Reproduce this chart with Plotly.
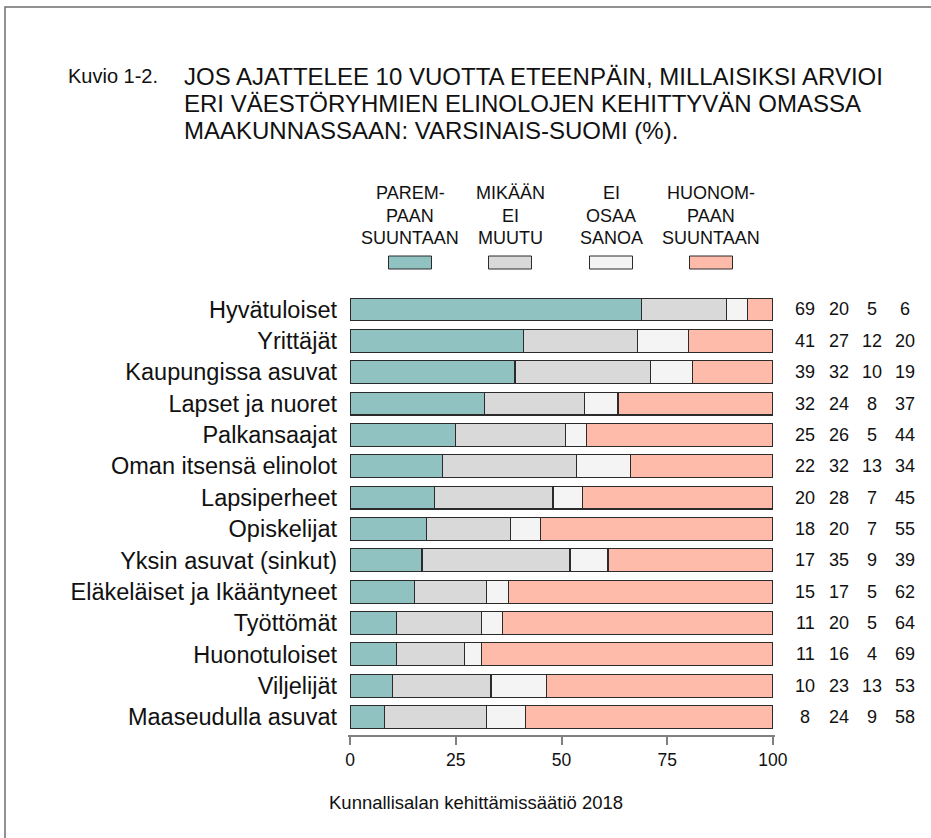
import plotly.graph_objects as go

categories = ["Hyvätuloiset", "Yrittäjät", "Kaupungissa asuvat", "Lapset ja nuoret",
              "Palkansaajat", "Oman itsensä elinolot", "Lapsiperheet", "Opiskelijat",
              "Yksin asuvat (sinkut)", "Eläkeläiset ja Ikääntyneet", "Työttömät",
              "Huonotuloiset", "Viljelijät", "Maaseudulla asuvat"]
better = [69, 41, 39, 32, 25, 22, 20, 18, 17, 15, 11, 11, 10, 8]
same = [20, 27, 32, 24, 26, 32, 28, 20, 35, 17, 20, 16, 23, 24]
dont_know = [5, 12, 10, 8, 5, 13, 7, 7, 9, 5, 5, 4, 13, 9]
worse = [6, 20, 19, 37, 44, 34, 45, 55, 39, 62, 64, 69, 53, 58]

series_names = ["PAREM-<br>PAAN<br>SUUNTAAN", "MIKÄÄN<br>EI<br>MUUTU",
                "EI<br>OSAA<br>SANOA", "HUONOM-<br>PAAN<br>SUUNTAAN"]
series_values = [better, same, dont_know, worse]
colors = ["#90C2C2", "#D9D9D9", "#F4F4F4", "#FFBBAA"]
x_ticks = [0, 25, 50, 75, 100]

title_prefix = "Kuvio 1-2."
title_lines = ["JOS AJATTELEE 10 VUOTTA ETEENPÄIN, MILLAISIKSI ARVIOI",
               "ERI VÄESTÖRYHMIEN ELINOLOJEN KEHITTYVÄN OMASSA",
               "MAAKUNNASSAAN: VARSINAIS-SUOMI (%)."]
footer = "Kunnallisalan kehittämissäätiö 2018"

W, H = 931, 838
PL, PR, PT, PB = 348, 775, 293, 735
FONT = "Liberation Sans, Arial, sans-serif"


def px(xp):
    return (xp - PL) / (PR - PL)


def py(yp):
    return (PB - yp) / (PB - PT)


fig = go.Figure()
for name, vals, col in zip(series_names, series_values, colors):
    fig.add_trace(go.Bar(
        y=categories, x=vals, orientation="h", name=name,
        marker=dict(color=col, line=dict(color="#2b2b2b", width=1.1)),
        showlegend=False,
    ))

annotations = []
# value columns
col_px = [805, 839, 872, 905]
for vals, cx in zip(series_values, col_px):
    for cat, v in zip(categories, vals):
        annotations.append(dict(
            x=px(cx), xref="paper", y=cat, yref="y", text=str(v),
            showarrow=False, xanchor="center", yanchor="middle",
            font=dict(family=FONT, size=18, color="#111"),
        ))

# legend
leg_cx = [410, 510, 611, 711]
leg_line_y = [192, 215, 237]
shapes = []
for name, col, cx in zip(series_names, colors, leg_cx):
    for line, ly in zip(name.split("<br>"), leg_line_y):
        annotations.append(dict(
            x=px(cx), xref="paper", y=py(ly + 1), yref="paper", text=line,
            showarrow=False, xanchor="center", yanchor="middle",
            font=dict(family=FONT, size=18, color="#111"),
        ))
    shapes.append(dict(
        type="rect", xref="paper", yref="paper",
        x0=px(cx - 21.5), x1=px(cx + 21.5), y0=py(269), y1=py(256),
        fillcolor=col, line=dict(color="#2b2b2b", width=1),
    ))

# title
annotations.append(dict(
    x=px(66), xref="paper", y=py(76), yref="paper", text=title_prefix,
    showarrow=False, xanchor="left", yanchor="middle",
    font=dict(family=FONT, size=20, color="#111"),
))
for line, ly in zip(title_lines, [76, 103, 130]):
    annotations.append(dict(
        x=px(182), xref="paper", y=py(ly), yref="paper", text=line,
        showarrow=False, xanchor="left", yanchor="middle",
        font=dict(family=FONT, size=24, color="#111"),
    ))

# footer
annotations.append(dict(
    x=px(476), xref="paper", y=py(802), yref="paper", text=footer,
    showarrow=False, xanchor="center", yanchor="middle",
    font=dict(family=FONT, size=18.5, color="#111"),
))

# outer border (runs off right and bottom edges)
shapes.append(dict(
    type="rect", xref="paper", yref="paper",
    x0=px(5), x1=px(1000), y0=py(1000), y1=py(7),
    line=dict(color="#6e6e6e", width=1.5), fillcolor="rgba(0,0,0,0)", layer="below",
))

fig.update_layout(
    width=W, height=H,
    margin=dict(l=PL, r=W - PR, t=PT, b=H - PB, pad=0),
    barmode="stack", barnorm="percent", bargap=0.27,
    plot_bgcolor="white", paper_bgcolor="white",
    annotations=annotations, shapes=shapes,
    font=dict(family=FONT, color="#111"),
)
fig.update_xaxes(
    range=[-0.5, 100.5], tickvals=x_ticks, ticktext=[str(t) for t in x_ticks],
    showgrid=False, zeroline=False, showline=True, linecolor="#808080", linewidth=1.5,
    ticks="outside", ticklen=8, tickcolor="#808080", tickwidth=1.5,
    tickfont=dict(family=FONT, size=17.5, color="#111"),
)
fig.update_yaxes(
    categoryorder="array", categoryarray=categories[::-1],
    range=[-0.574, 13.526], showgrid=False, zeroline=False, showline=False,
    ticks="", ticklabelstandoff=10,
    tickfont=dict(family=FONT, size=23.5, color="#111"),
)

fig.write_html("out.html", config={"displayModeBar": False},
               post_script="document.body.style.margin='0';")
